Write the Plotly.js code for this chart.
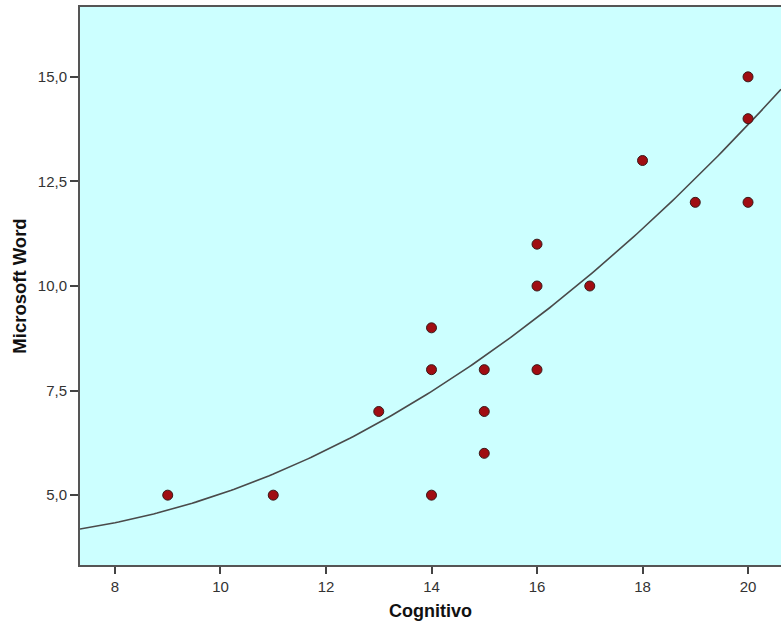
<!DOCTYPE html>
<html>
<head>
<meta charset="utf-8">
<script src="https://cdn.plot.ly/plotly-3.0.1.min.js"></script>
<style>html,body{margin:0;padding:0;background:#fff;}#chart{width:781px;height:623px;}</style>
</head>
<body>
<div id="chart"></div>
<script>
const cognitivo = [9, 11, 13, 14, 14, 14, 15, 15, 15, 16, 16, 16, 17, 18, 19, 20, 20, 20];
const microsoftWord = [5, 5, 7, 9, 8, 5, 8, 7, 6, 11, 10, 8, 10, 13, 12, 15, 14, 12];
const xTicks = [8, 10, 12, 14, 16, 18, 20];
const yTicks = [5, 7.5, 10, 12.5, 15];
const yTickText = ['5,0', '7,5', '10,0', '12,5', '15,0'];
// Quadratic fit line coefficients (c0 + c1*x + c2*x^2)
const fitCoefficients = [5.19, -0.4658, 0.04495];

const xRange = [7.337, 20.625];
const fitX = [], fitY = [];
for (let i = 0; i <= 200; i++) {
  const x = xRange[0] + (xRange[1] - xRange[0]) * i / 200;
  fitX.push(x);
  fitY.push(fitCoefficients[0] + fitCoefficients[1] * x + fitCoefficients[2] * x * x);
}

const data = [
  {x: fitX, y: fitY, mode: 'lines', type: 'scatter', line: {color: '#4a4a4a', width: 1.6}, hoverinfo: 'skip'},
  {x: cognitivo, y: microsoftWord, mode: 'markers', type: 'scatter',
   marker: {color: '#a00d12', size: 10, line: {color: '#3a1a1a', width: 1}}}
];

const layout = {
  width: 781, height: 623,
  margin: {l: 80, r: 0, t: 7, b: 58},
  paper_bgcolor: '#ffffff',
  plot_bgcolor: '#ccffff',
  showlegend: false,
  separators: ',.',
  font: {family: 'Arial, "Liberation Sans", sans-serif', color: '#222', size: 15},
  xaxis: {
    range: xRange, tickmode: 'array', tickvals: xTicks, ticktext: xTicks.map(String),
    showgrid: false, zeroline: false,
    showline: true, linecolor: '#555', linewidth: 2, mirror: true,
    ticks: 'outside', ticklen: 7, tickwidth: 2, tickcolor: '#444',
    tickfont: {family: 'Arial, "Liberation Sans", sans-serif', size: 15, color: '#333'},
    title: {text: 'Cognitivo', font: {size: 18, color: '#111', weight: 'bold'}, standoff: 10}
  },
  yaxis: {
    range: [3.33, 16.67], tickmode: 'array', tickvals: yTicks, ticktext: yTickText,
    showgrid: false, zeroline: false,
    showline: true, linecolor: '#555', linewidth: 2,
    ticks: 'outside', ticklen: 8, tickwidth: 2, tickcolor: '#444',
    tickfont: {family: 'Arial, "Liberation Sans", sans-serif', size: 15, color: '#333'},
    title: {text: 'Microsoft Word', font: {size: 18.5, color: '#111', weight: 'bold'}, standoff: 6}
  }
};

Plotly.newPlot('chart', data, layout, {displayModeBar: false, staticPlot: true});
</script>
</body>
</html>
